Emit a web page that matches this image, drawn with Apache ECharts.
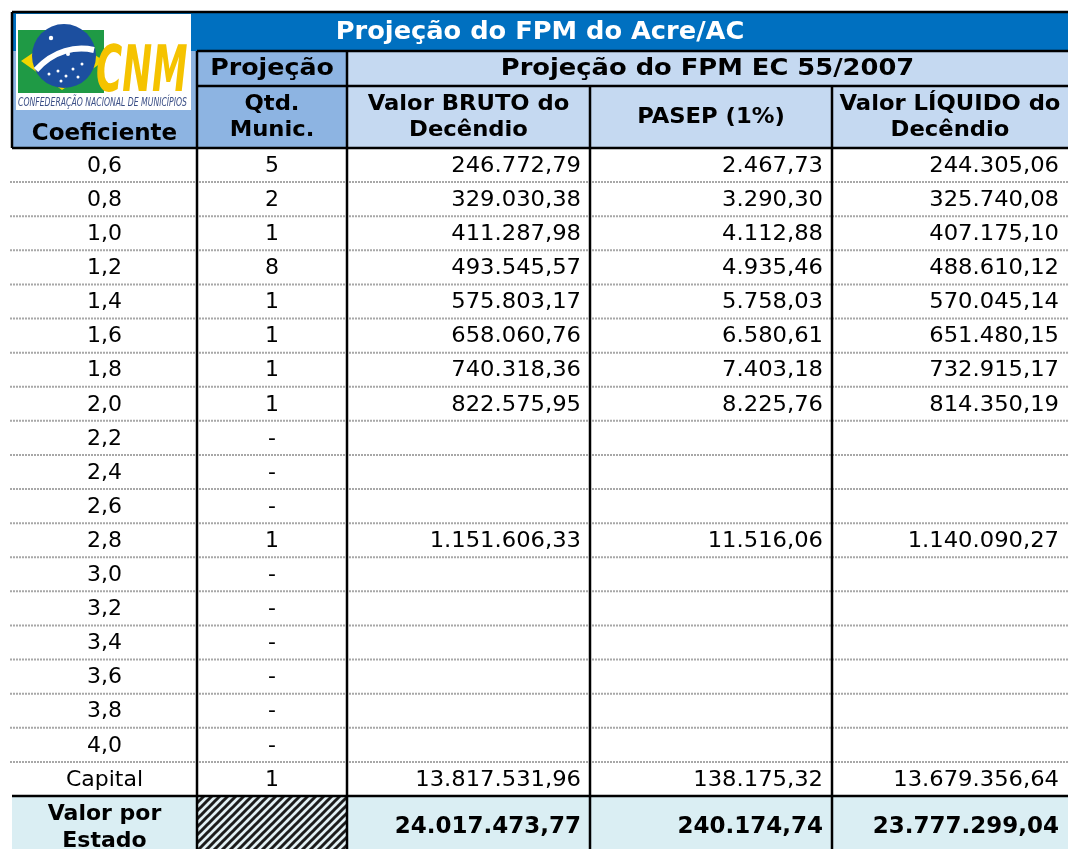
<!DOCTYPE html>
<html>
<head>
<meta charset="utf-8">
<title>Projeção do FPM do Acre/AC</title>
<script src="https://cdn.jsdelivr.net/npm/echarts@6/dist/echarts.min.js"></script>
<style>
  html, body { margin: 0; padding: 0; background: #fff; }
  #main { width: 1068px; height: 849px; }
</style>
</head>
<body>
<div id="main"></div>
<script>
// dados da tabela
var titulo = 'Projeção do FPM do Acre/AC';
var subtitulo = 'Projeção do FPM EC 55/2007';
var cabecalhos = ['Coeficiente', 'Qtd.\nMunic.', 'Valor BRUTO do\nDecêndio', 'PASEP (1%)', 'Valor LÍQUIDO do\nDecêndio'];
var coeficientes = ['0,6', '0,8', '1,0', '1,2', '1,4', '1,6', '1,8', '2,0', '2,2', '2,4', '2,6', '2,8', '3,0', '3,2', '3,4', '3,6', '3,8', '4,0', 'Capital'];
var qtdMunic = ['5', '2', '1', '8', '1', '1', '1', '1', '-', '-', '-', '1', '-', '-', '-', '-', '-', '-', '1'];
var valorBruto = [246772.79, 329030.38, 411287.98, 493545.57, 575803.17, 658060.76, 740318.36, 822575.95, null, null, null, 1151606.33, null, null, null, null, null, null, 13817531.96];
var pasep = [2467.73, 3290.30, 4112.88, 4935.46, 5758.03, 6580.61, 7403.18, 8225.76, null, null, null, 11516.06, null, null, null, null, null, null, 138175.32];
var valorLiquido = [244305.06, 325740.08, 407175.10, 488610.12, 570045.14, 651480.15, 732915.17, 814350.19, null, null, null, 1140090.27, null, null, null, null, null, null, 13679356.64];
var totais = [24017473.77, 240174.74, 23777299.04];

// layout (px)
var W = 1068, H = 849;
var colEdges = [12, 197, 347, 590, 832, 1068];
var yTop = 12, yTitle = 51, ySub = 86, yHead = 148, yFoot = 796, yEnd = 856;
var rowH = (yFoot - yHead) / coeficientes.length;
var FONT = '"DejaVu Sans", Verdana, sans-serif';

function fmt(v) {
    if (v == null) return '';
    var s = v.toFixed(2).split('.');
    var inteiro = s[0].replace(/\B(?=(\d{3})+(?!\d))/g, '.');
    return inteiro + ',' + s[1];
}

// hachura da célula "Qtd." no total
var hatch = document.createElement('canvas');
hatch.width = 8; hatch.height = 8;
(function () {
    var c = hatch.getContext('2d');
    c.fillStyle = '#e2f0f4';
    c.fillRect(0, 0, 8, 8);
    c.strokeStyle = '#1c1c1c';
    c.lineWidth = 3;
    c.beginPath();
    c.moveTo(-2, 2); c.lineTo(2, -2);
    c.moveTo(0, 8); c.lineTo(8, 0);
    c.moveTo(6, 10); c.lineTo(10, 6);
    c.stroke();
})();

// montar células: [x0, y0, x1, y1, texto, align, bold, size, cor, scaleX]
var cells = [];
function addCell(c0, c1, y0, y1, text, align, bold, size, color, sx) {
    cells.push([colEdges[c0], y0, colEdges[c1], y1, text, align, bold ? 1 : 0, size, color || '#000', sx || 1]);
}
addCell(0, 5, yTop, yTitle + 1, titulo, 'center', true, 24, '#fff', 1.07);
addCell(1, 2, yTitle, ySub, 'Projeção', 'center', true, 23, null, 1.1);
addCell(2, 5, yTitle, ySub, subtitulo, 'center', true, 23, null, 1.12);
addCell(0, 1, 118, yHead, cabecalhos[0], 'center', true, 23, null, 1.0);
for (var k = 1; k < 5; k++) addCell(k, k + 1, ySub, yHead, cabecalhos[k], 'center', true, 21, null, 1.08);
coeficientes.forEach(function (c, i) {
    var y0 = yHead + i * rowH, y1 = y0 + rowH;
    addCell(0, 1, y0, y1, c, 'center', false, 22);
    addCell(1, 2, y0, y1, qtdMunic[i], 'center', false, 22);
    addCell(2, 3, y0, y1, fmt(valorBruto[i]), 'right', false, 22, null, 1.03);
    addCell(3, 4, y0, y1, fmt(pasep[i]), 'right', false, 22, null, 1.03);
    addCell(4, 5, y0, y1, fmt(valorLiquido[i]), 'right', false, 22, null, 1.03);
});
addCell(0, 1, yFoot, 858, 'Valor por\nEstado', 'center', true, 22);
addCell(2, 3, yFoot, 856, fmt(totais[0]), 'right', true, 23);
addCell(3, 4, yFoot, 856, fmt(totais[1]), 'right', true, 23);
addCell(4, 5, yFoot, 856, fmt(totais[2]), 'right', true, 23);

var fills = [
    [12, yTop, W, yTitle, '#0070C0'],
    [12, yTitle, colEdges[2], yHead, '#8DB4E2'],
    [colEdges[2], yTitle, W, yHead, '#C5D9F1'],
    [12, yFoot, W, yEnd, '#DAEEF3'],
    [colEdges[1], yFoot, colEdges[2], yEnd, 'hatch']
];
var dotted = [];
for (var r = 1; r < coeficientes.length; r++) dotted.push([10, yHead + r * rowH, W, yHead + r * rowH]);
var solid = [
    [12, yTop, W, yTop],
    [12, yTop, 12, yHead],
    [colEdges[1], yTitle, W, yTitle],
    [colEdges[1], ySub, W, ySub],
    [12, yHead, W, yHead],
    [12, yFoot, W, yFoot],
    [colEdges[1], yTitle, colEdges[1], yEnd],
    [colEdges[2], yTitle, colEdges[2], yEnd],
    [colEdges[3], ySub, colEdges[3], yEnd],
    [colEdges[4], ySub, colEdges[4], yEnd]
];
var logoPos = [[16, 14]];

var chart = echarts.init(document.getElementById('main'));

function rectItem(params, api) {
    var p0 = api.coord([api.value(0), api.value(1)]);
    var p1 = api.coord([api.value(2), api.value(3)]);
    var f = fills[params.dataIndex][4];
    return {
        type: 'rect',
        shape: { x: p0[0], y: p0[1], width: p1[0] - p0[0], height: p1[1] - p0[1] },
        style: { fill: f === 'hatch' ? { image: hatch, repeat: 'repeat' } : f }
    };
}
function lineItem(dash, color, width) {
    return function (params, api) {
        var p0 = api.coord([api.value(0), api.value(1)]);
        var p1 = api.coord([api.value(2), api.value(3)]);
        return {
            type: 'line',
            shape: { x1: p0[0], y1: p0[1], x2: p1[0], y2: p1[1] },
            style: { stroke: color, lineWidth: width, lineDash: dash }
        };
    };
}
function textItem(params, api) {
    var d = cells[params.dataIndex];
    var p0 = api.coord([d[0], d[1]]);
    var p1 = api.coord([d[2], d[3]]);
    var x = d[5] === 'right' ? p1[0] - 9 : (p0[0] + p1[0]) / 2;
    var y = (p0[1] + p1[1]) / 2 + 1;
    return {
        type: 'text',
        x: x, y: y, scaleX: d[9],
        style: {
            text: d[4], x: 0, y: 0,
            align: d[5], verticalAlign: 'middle',
            font: (d[6] ? 'bold ' : '') + d[7] + 'px ' + FONT,
            lineHeight: d[7] + 5,
            fill: d[8]
        }
    };
}
function logoItem(params, api) {
    var p = api.coord([api.value(0), api.value(1)]);
    var dot = function (cx, cy, r) { return { type: 'circle', shape: { cx: cx, cy: cy, r: r }, style: { fill: '#fff' } }; };
    return {
        type: 'group', x: p[0], y: p[1],
        children: [
            { type: 'rect', shape: { x: 0, y: 0, width: 175, height: 96 }, style: { fill: '#fff' } },
            { type: 'rect', shape: { x: 2, y: 16, width: 86, height: 63 }, style: { fill: '#1f9a45' } },
            { type: 'polygon', shape: { points: [[5, 47], [46, 19], [88, 47], [46, 76]] }, style: { fill: '#f2d500' } },
            { type: 'circle', shape: { cx: 48, cy: 42, r: 32 }, style: { fill: '#1c4f9f' } },
            { type: 'bezierCurve', shape: { x1: 20, y1: 56, x2: 78, y2: 36, cpx1: 38, cpy1: 36, cpx2: 60, cpy2: 32 }, style: { stroke: '#fff', lineWidth: 6, fill: null } },
            dot(33, 60, 1.5), dot(42, 57, 1.5), dot(50, 62, 1.5), dot(57, 55, 1.5), dot(45, 67, 1.5), dot(62, 63, 1.5), dot(66, 50, 1.5),
            dot(35, 24, 2.2), dot(52, 40, 2),
            { type: 'text', x: 80, y: 92, scaleX: 0.62, style: { text: 'CNM', x: 0, y: 0, font: 'italic bold 64px "DejaVu Sans Condensed", "DejaVu Sans", sans-serif', fill: '#f5c300', verticalAlign: 'bottom', align: 'left' } },
            { type: 'text', x: 2, y: 89, scaleX: 0.66, style: { text: 'CONFEDERAÇÃO NACIONAL DE MUNICÍPIOS', x: 0, y: 0, font: 'italic 13px "DejaVu Sans Condensed", "DejaVu Sans", sans-serif', fill: '#3b4f86', verticalAlign: 'middle', align: 'left' } }
        ]
    };
}

chart.setOption({
    backgroundColor: '#fff',
    animation: false,
    grid: { left: 0, right: 0, top: 0, bottom: 0 },
    xAxis: { type: 'value', min: 0, max: W, show: false },
    yAxis: { type: 'value', min: 0, max: H, inverse: true, show: false },
    series: [
        { type: 'custom', name: 'fundos', data: fills.map(function (f) { return f.slice(0, 4); }), renderItem: rectItem, z: 1, silent: true, clip: true },
        { type: 'custom', name: 'pontilhado', data: dotted, renderItem: lineItem([2, 1], '#a8a8a8', 2), z: 2, silent: true, clip: true },
        { type: 'custom', name: 'bordas', data: solid, renderItem: lineItem(null, '#000', 2.5), z: 3, silent: true, clip: true },
        { type: 'custom', name: 'textos', data: cells.map(function (c) { return [c[0], c[1], c[2], c[3]]; }), renderItem: textItem, z: 4, silent: true, clip: true },
        { type: 'custom', name: 'logo', data: logoPos, renderItem: logoItem, z: 5, silent: true, clip: false }
    ]
});
</script>
</body>
</html>
